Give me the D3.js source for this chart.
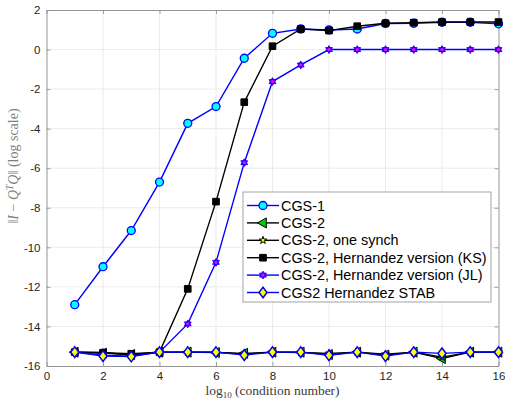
<!DOCTYPE html>
<html>
<head>
<meta charset="utf-8">
<script src="https://cdn.jsdelivr.net/npm/d3@7"></script>
<style>
  html, body { margin: 0; padding: 0; background: #fff; }
  svg { display: block; }
</style>
</head>
<body>
<svg id="chart" width="505" height="399"></svg>
<script>
// log10 of condition number
const condExp = [1, 2, 3, 4, 5, 6, 7, 8, 9, 10, 11, 12, 13, 14, 15, 16];

// log10 of ||I - Q^T Q|| per method
const cgs1      = [-12.9, -10.98, -9.15, -6.7, -3.73, -2.88, -0.44, 0.82, 1.04, 0.99, 1.04, 1.32, 1.33, 1.38, 1.38, 1.3];
const cgs2      = [-15.3, -15.35, -15.42, -15.3, -15.3, -15.32, -15.36, -15.3, -15.3, -15.42, -15.3, -15.45, -15.3, -15.62, -15.3, -15.3];
const cgs2Synch = [-15.3, -15.32, -15.45, -15.3, -15.3, -15.3, -15.4, -15.3, -15.32, -15.36, -15.3, -15.4, -15.3, -15.55, -15.3, -15.3];
const cgs2KS    = [-15.3, -15.33, -15.38, -15.3, -12.1, -7.69, -2.66, 0.17, 1.04, 0.96, 1.18, 1.33, 1.36, 1.39, 1.39, 1.39];
const cgs2JL    = [-15.3, -15.45, -15.5, -15.3, -13.87, -10.76, -5.72, -1.62, -0.78, 0, 0, 0, 0, 0, 0, 0];
const cgs2Stab  = [-15.3, -15.5, -15.52, -15.3, -15.3, -15.3, -15.45, -15.3, -15.3, -15.46, -15.3, -15.5, -15.3, -15.36, -15.3, -15.3];

const seriesNames = [
  "CGS-1",
  "CGS-2",
  "CGS-2, one synch",
  "CGS-2, Hernandez version (KS)",
  "CGS-2, Hernandez version (JL)",
  "CGS2 Hernandez STAB"
];

const xTicks = [0, 2, 4, 6, 8, 10, 12, 14, 16];
const yTicks = [-16, -14, -12, -10, -8, -6, -4, -2, 0, 2];

// ---- marker shapes ----
const hexagram = {
  draw(ctx, size) {
    const r = Math.sqrt(size / 1.3);
    for (let t = 0; t < 2; t++) {
      const off = t === 0 ? -Math.PI / 2 : Math.PI / 2;
      for (let i = 0; i < 3; i++) {
        const a = off + i * 2 * Math.PI / 3;
        const px = r * Math.cos(a), py = r * Math.sin(a);
        if (i === 0) ctx.moveTo(px, py); else ctx.lineTo(px, py);
      }
      ctx.closePath();
    }
  }
};
const leftTriangle = {
  draw(ctx, size) {
    const r = Math.sqrt(size / 1.3);
    ctx.moveTo(-r, 0);
    ctx.lineTo(r * 0.6, -r * 0.9);
    ctx.lineTo(r * 0.6, r * 0.9);
    ctx.closePath();
  }
};
const diamond = {
  draw(ctx, size) {
    const r = Math.sqrt(size / 1.2);
    ctx.moveTo(0, -r);
    ctx.lineTo(r * 0.75, 0);
    ctx.lineTo(0, r);
    ctx.lineTo(-r * 0.75, 0);
    ctx.closePath();
  }
};

const styles = [
  { values: cgs1,      line: "#0000ff", symbol: d3.symbolCircle,  size: 50, fill: "#00ffff", stroke: "#0000ff", sw: 1.3 },
  { values: cgs2,      line: "#000000", symbol: leftTriangle,     size: 40, fill: "#00cc00", stroke: "#000000", sw: 1.0 },
  { values: cgs2Synch, line: "#000000", symbol: d3.symbolStar,    size: 18, fill: "#ffff00", stroke: "#000000", sw: 1.0 },
  { values: cgs2KS,    line: "#000000", symbol: d3.symbolSquare,  size: 44, fill: "#000000", stroke: "#000000", sw: 1.0 },
  { values: cgs2JL,    line: "#0000ff", symbol: hexagram,         size: 20, fill: "#ff00ff", stroke: "#0000ff", sw: 0.9 },
  { values: cgs2Stab,  line: "#0000ff", symbol: diamond,          size: 34, fill: "#ffff00", stroke: "#0000ff", sw: 1.5 }
];

// ---- layout ----
const svg = d3.select("#chart");
const plotL = 46.5, plotR = 498.5, plotT = 10, plotB = 366;

const x = d3.scaleLinear().domain([0, 16]).range([plotL, plotR]);
const y = d3.scaleLinear().domain([-16, 2]).range([plotB, plotT]);

const tickColor = "#262626";
const axisColor = "#8a8a8a";

// grid
const grid = svg.append("g");
grid.selectAll("line.gx").data(xTicks.slice(1, -1)).join("line")
  .attr("x1", d => x(d)).attr("x2", d => x(d))
  .attr("y1", plotT).attr("y2", plotB)
  .attr("stroke", "#e6e6e6").attr("stroke-width", 0.8);
grid.selectAll("line.gy").data(yTicks.slice(1, -1)).join("line")
  .attr("y1", d => y(d)).attr("y2", d => y(d))
  .attr("x1", plotL).attr("x2", plotR)
  .attr("stroke", "#e6e6e6").attr("stroke-width", 0.8);

// axes with inward ticks
const xAxis = svg.append("g").attr("transform", `translate(0,${plotB})`)
  .call(d3.axisBottom(x).tickValues(xTicks).tickSize(-4).tickPadding(6).tickSizeOuter(0));
const yAxis = svg.append("g").attr("transform", `translate(${plotL},0)`)
  .call(d3.axisLeft(y).tickValues(yTicks).tickSize(-4).tickPadding(6).tickSizeOuter(0));
const xAxisTop = svg.append("g").attr("transform", `translate(0,${plotT})`)
  .call(d3.axisTop(x).tickValues(xTicks).tickSize(-4).tickFormat("").tickSizeOuter(0));
const yAxisRight = svg.append("g").attr("transform", `translate(${plotR},0)`)
  .call(d3.axisRight(y).tickValues(yTicks).tickSize(-4).tickFormat("").tickSizeOuter(0));

[xAxis, yAxis, xAxisTop, yAxisRight].forEach(g => {
  g.selectAll("path.domain").attr("stroke", axisColor).attr("stroke-width", 0.9);
  g.selectAll(".tick line").attr("stroke", axisColor).attr("stroke-width", 0.8);
  g.selectAll(".tick text")
    .attr("fill", tickColor)
    .style("font-family", "'Liberation Sans', Arial, sans-serif")
    .style("font-size", "11.5px");
});
yAxis.selectAll(".tick text").text(d => d < 0 ? "-" + Math.abs(d) : d);

// series lines and markers
const lineGen = d3.line().x((d, i) => x(condExp[i])).y(d => y(d));
const plot = svg.append("g");
styles.forEach(s => {
  plot.append("path")
    .attr("d", lineGen(s.values))
    .attr("fill", "none")
    .attr("stroke", s.line)
    .attr("stroke-width", 1.4);
  plot.append("g").selectAll("path").data(s.values).join("path")
    .attr("transform", (d, i) => `translate(${x(condExp[i])},${y(d)})`)
    .attr("d", d3.symbol().type(s.symbol).size(s.size))
    .attr("fill", s.fill)
    .attr("stroke", s.stroke)
    .attr("stroke-width", s.sw);
});

// legend
const legX = 243, legY = 192, legW = 248, legH = 110, rowH = 17.4;
const legend = svg.append("g");
legend.append("rect")
  .attr("x", legX).attr("y", legY).attr("width", legW).attr("height", legH)
  .attr("fill", "#fff").attr("stroke", "#9a9a9a").attr("stroke-width", 0.9);
styles.forEach((s, i) => {
  const cy = legY + 13.5 + i * rowH;
  legend.append("line")
    .attr("x1", legX + 4).attr("x2", legX + 36)
    .attr("y1", cy).attr("y2", cy)
    .attr("stroke", s.line).attr("stroke-width", 1.4);
  legend.append("path")
    .attr("transform", `translate(${legX + 20},${cy})`)
    .attr("d", d3.symbol().type(s.symbol).size(s.size))
    .attr("fill", s.fill).attr("stroke", s.stroke).attr("stroke-width", s.sw);
  legend.append("text")
    .attr("x", legX + 38).attr("y", cy).attr("dy", "0.36em")
    .attr("fill", "#000")
    .style("font-family", "'Liberation Sans', Arial, sans-serif")
    .style("font-size", "14.4px")
    .text(seriesNames[i]);
});

// axis labels
const xl = svg.append("text")
  .attr("x", (plotL + plotR) / 2).attr("y", 395)
  .attr("text-anchor", "middle")
  .attr("fill", "#3a3a3a")
  .style("font-family", "'Liberation Serif', serif")
  .style("font-size", "13.5px");
xl.append("tspan").text("log");
xl.append("tspan").attr("font-size", "9px").attr("dy", 3).text("10");
xl.append("tspan").attr("dy", -3).text(" (condition number)");

const yl = svg.append("text")
  .attr("transform", `translate(18,166) rotate(-90)`)
  .attr("text-anchor", "middle")
  .attr("fill", "#808080")
  .style("font-family", "'Liberation Serif', serif")
  .style("font-size", "14px");
yl.append("tspan").text("\u2016");
yl.append("tspan").attr("font-style", "italic").text("I");
yl.append("tspan").text(" \u2212 ");
yl.append("tspan").attr("font-style", "italic").text("Q");
yl.append("tspan").attr("font-style", "italic").attr("font-size", "9.5px").attr("dy", -5).text("T");
yl.append("tspan").attr("font-style", "italic").attr("dy", 5).text("Q");
yl.append("tspan").text("\u2016 (log scale)");
</script>
</body>
</html>
